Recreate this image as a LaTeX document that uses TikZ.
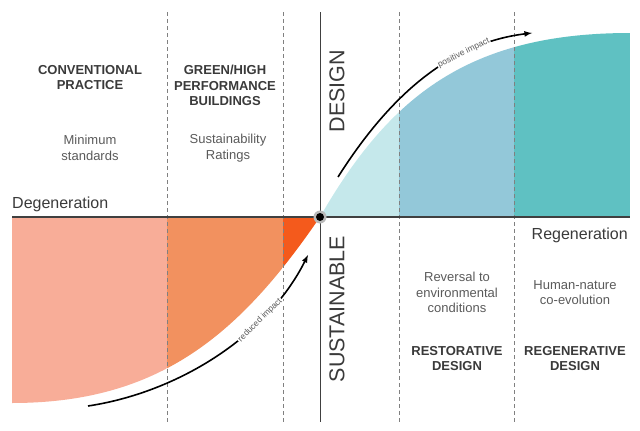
\documentclass[tikz,border=0pt]{standalone}
\usepackage{fontspec}
\setmainfont{Liberation Sans}
\definecolor{redA}{HTML}{F8AD98}
\definecolor{redB}{HTML}{F2915F}
\definecolor{redC}{HTML}{F45A1C}
\definecolor{blueA}{HTML}{C5E8EB}
\definecolor{blueB}{HTML}{93C8D9}
\definecolor{blueC}{HTML}{5FC1C2}
\definecolor{txt}{HTML}{3A3A3A}
\definecolor{soft}{HTML}{5A5A5A}
\begin{document}
\begin{tikzpicture}
	[x=1pt,y=1pt,>=latex,
	head/.style={align=center,text=txt,font=\fontsize{13}{15.5}\selectfont\bfseries,inner sep=0pt},
	note/.style={align=center,text=soft,font=\fontsize{13}{15.5}\selectfont,inner sep=0pt},
	side/.style={text=txt,font=\fontsize{16}{18}\selectfont,inner sep=0pt},
	big/.style={rotate=90,text=txt,font=\fontsize{21.5}{24}\selectfont,inner sep=0pt},
	guide/.style={gray,dashed,line width=0.7pt,dash pattern=on 4pt off 3pt},
	axis/.style={line width=1.4pt,black!75},
	impact/.style={->,line width=1.6pt,black},
	tag/.style={sloped,fill=white,text=soft,inner sep=1pt,font=\fontsize{8.5}{9}\selectfont}]
\useasboundingbox (0,0) rectangle (640,-431);
% coloured fields
\begin{scope}
	\clip (320,-217) .. controls (240,-334) and (160,-403) .. (12,-403) -- (12,-217) -- cycle;
	\fill[redA] (12,-217) rectangle (167,-410);
	\fill[redB] (167,-217) rectangle (283,-410);
	\fill[redC] (283,-217) rectangle (321,-410);
\end{scope}
\begin{scope}
	\clip (320,-217) .. controls (390,-95) and (470,-33) .. (630,-33) -- (630,-217) -- cycle;
	\fill[blueA] (319,-217) rectangle (399,-30);
	\fill[blueB] (399,-217) rectangle (514,-30);
	\fill[blueC] (514,-217) rectangle (630,-30);
\end{scope}
% guides
\foreach \gx/\gn in {167/g1,283/g2,399/g3,514/g4}{
	\coordinate (\gn top) at (\gx,-12);
	\coordinate (\gn bot) at (\gx,-422);
	\draw[guide] (\gn top) -- (\gn bot);
}
% axes
\coordinate (west) at (12,-217);
\coordinate (east) at (630,-217);
\coordinate (north) at (320,-12);
\coordinate (south) at (320,-422);
\draw[axis] (west) -- (east);
\draw[axis,line width=1pt] (north) -- (south);
\node[circle,fill=gray!55,minimum size=13pt,inner sep=0pt] (halo) at (320,-217) {};
\node[circle,fill=black,minimum size=8pt,inner sep=0pt] (origin) at (halo) {};
% impact arrows
\coordinate (up start) at (338,-177);
\coordinate (up end) at (532,-33);
\draw[impact] (up start) .. controls (390,-95) and (450,-43) .. node[tag,pos=0.7] (pos) {positive impact} (up end);
\coordinate (low start) at (88,-406);
\coordinate (low end) at (308,-255);
\draw[impact] (low start) .. controls (180,-392) and (268,-335) .. node[tag,pos=0.7] (red) {reduced impact} (low end);
% labels
\node[head] (conv) at (90,-77.5) {CONVENTIONAL\\PRACTICE};
\node[head] (green) at (225,-85.5) {GREEN/HIGH\\PERFORMANCE\\BUILDINGS};
\node[note] (min) at (90,-148) {Minimum\\standards};
\node[note] (rate) at (228,-148) {Sustainability\\Ratings};
\node[side,anchor=base west] (degen) at (12,-208) {Degeneration};
\node[side,anchor=base east] (regen) at (628,-239) {Regeneration};
\node[big] (design) at (337,-91) {DESIGN};
\node[big] (sust) at (337,-309) {SUSTAINABLE};
\node[note] (rev) at (457,-292.5) {Reversal to\\environmental\\conditions};
\node[note] (human) at (575,-292.5) {Human-nature\\co-evolution};
\node[head] (resto) at (457,-358.5) {RESTORATIVE\\DESIGN};
\node[head] (regdes) at (575,-358.5) {REGENERATIVE\\DESIGN};
\end{tikzpicture}
\end{document}
